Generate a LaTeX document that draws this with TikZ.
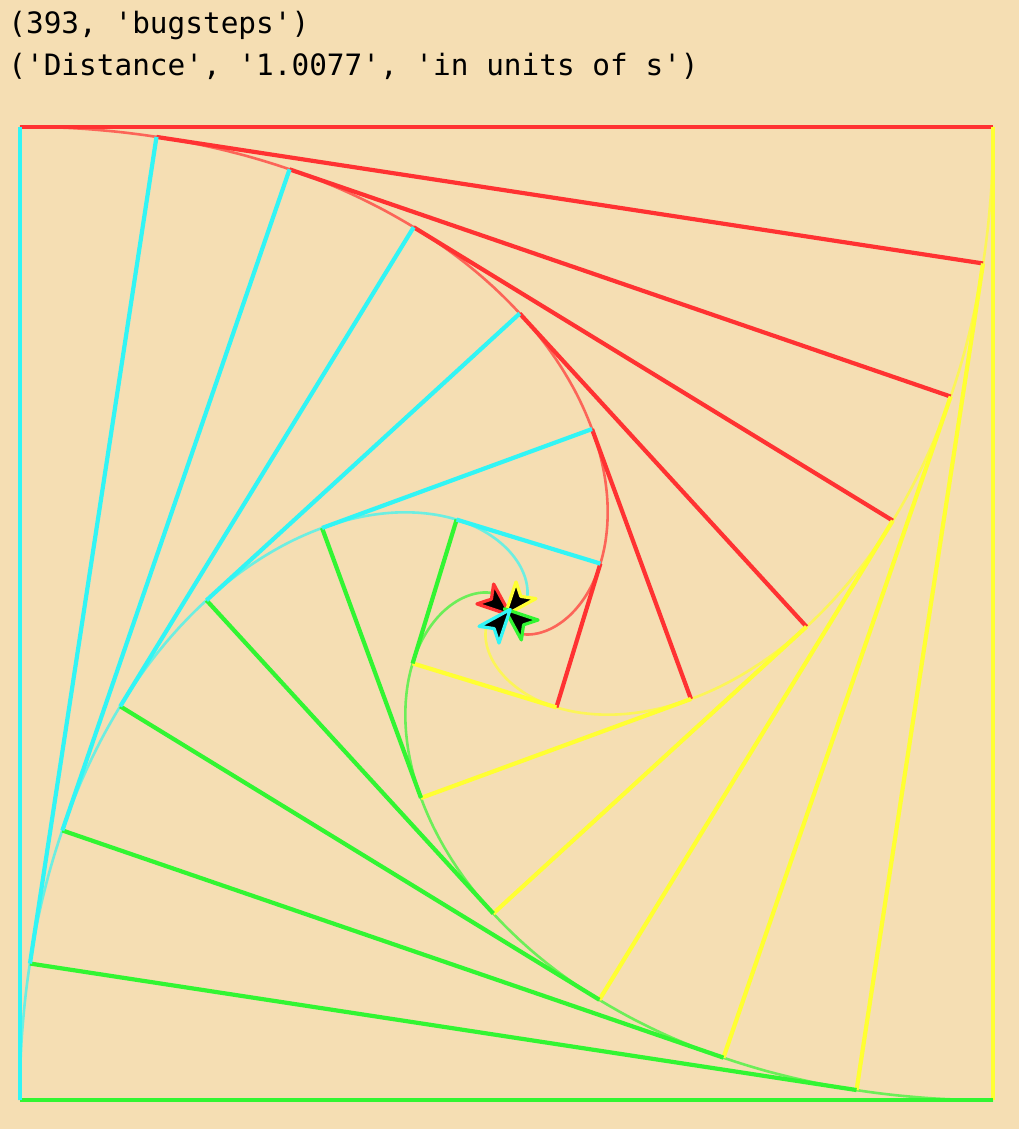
\documentclass[tikz,border=0pt]{standalone}
\usepackage{fontspec}
\newfontfamily\monof{DejaVu Sans Mono}
\definecolor{bg}{RGB}{245,222,179}
\definecolor{bred}{RGB}{255,50,50}
\definecolor{byel}{RGB}{255,255,50}
\definecolor{bgrn}{RGB}{50,245,50}
\definecolor{bcyn}{RGB}{50,245,245}
\begin{document}
\begin{tikzpicture}[x=0.5pt,y=0.5pt,
  seg/.style={line width=2.1pt},
  bugpath/.style={line width=1.3pt, opacity=0.7},
  txt/.style={anchor=base west, inner sep=0pt, font=\monof\fontsize{14.7}{18}\selectfont},
  dartshape/.style={fill=black, line width=1.6pt, line join=round}]
\fill[bg] (0,0) rectangle (1019,1129);
\useasboundingbox (0,0) rectangle (1019,1129);
\def\cx{506.5}\def\cy{515.5}\def\rz{688.3}
% text
\node[txt] (t1) at (8,1095) {(393, 'bugsteps')};
\node[txt] (t2) at (8,1053) {('Distance', '1.0077', 'in units of s')};
% bug paths
\foreach \a/\c in {135/bred,45/byel,-45/bgrn,-135/bcyn}{
  \draw[bugpath,\c] plot[domain=0:3.443,samples=300,smooth]
    ({\cx+\rz*exp(-\x)*cos(\a-deg(\x))},{\cy+\rz*exp(-\x)*sin(\a-deg(\x))});
}
% bug positions
\foreach \k in {0,...,6}{
  \pgfmathsetmacro\r{\rz-97*\k}
  \pgfmathsetmacro\t{deg(ln(\rz/\r))}
  \foreach \a/\n in {135/R,45/Y,-45/G,-135/C}{
    \coordinate (\n\k) at ({\cx+\r*cos(\a-\t)},{\cy+\r*sin(\a-\t)});
  }
}
% sight lines
\foreach \k in {0,...,6}{
  \draw[seg,bred] (R\k) -- (Y\k);
  \draw[seg,byel] (Y\k) -- (G\k);
  \draw[seg,bgrn] (G\k) -- (C\k);
  \draw[seg,bcyn] (C\k) -- (R\k);
}
% bugs
\foreach \px/\py/\ang/\c in {496/603/-40/bred,517/601/-130/byel,519/621/140/bgrn,498/624/50/bcyn}{
  \filldraw[dartshape,draw=\c,shift={(\px,{1129-\py})},rotate=\ang]
    (19,0) -- (-14,13) -- (-6,0) -- (-14,-13) -- cycle;
}
\end{tikzpicture}
\end{document}
